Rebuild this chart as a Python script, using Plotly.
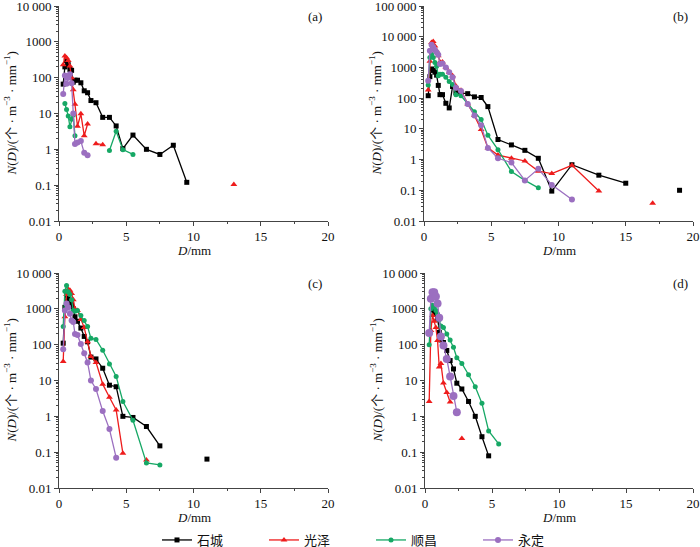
import plotly.graph_objects as go

W, H = 700, 547

# Parsivel bin centres (mm)
D_BINS = [0.312, 0.437, 0.562, 0.687, 0.812, 0.937, 1.062, 1.187, 1.375, 1.625,
          1.875, 2.125, 2.375, 2.75, 3.25, 3.75, 4.25, 4.75, 5.5, 6.5,
          7.5, 8.5, 9.5, 11, 13, 15, 17, 19]

SERIES_NAMES = ["石城", "光泽", "顺昌", "永定"]
N = None

# ---- panel (a)
a_shicheng = [66, 200, 300, 230, 170, 160, 75, 85, 85, 72, 43, 38, 23, 20, 7.8, 7.8, 4.5, 1.05, 2.5, 1.0, 0.72, 1.3, 0.12, N, N, N, N, N]
a_guangze = [230, 400, 360, 300, 210, 100, 46, 18, 4.4, 9.8, 2.4, 5.1, N, 1.44, 1.35, N, N, N, N, N, N, N, N, N, 0.105, N, N, N]
a_shunchang = [N, 19, 13, 8.5, 4.3, 6.9, 9.1, 2.4, N, N, N, N, N, N, N, 0.93, 3.2, 0.98, 0.72, N, N, N, N, N, N, N, N, N]
a_yongding = [35, 115, 68, 100, 125, 70, 10, 1.4, 1.55, 1.7, 0.8, 0.68, N, N, N, N, N, N, N, N, N, N, N, N, N, N, N, N]

# ---- panel (b)
b_shicheng = [120, 500, 890, 800, 700, 560, 260, 130, 130, 68, 48, 240, 150, 145, 140, 110, 105, 53, 4.5, 3.0, 2.0, 1.1, 0.094, 0.68, 0.31, 0.17, N, 0.1]
b_guangze = [185, 1600, 6500, 7000, 5000, 3500, 2400, 1500, 1500, 1000, 700, 540, 250, 180, 65, 27, 9.5, 2.4, 1.4, 1.1, 0.9, 0.42, 0.35, 0.65, 0.095, N, 0.038, N]
b_shunchang = [270, 2100, 2700, 2100, 1450, 1100, 540, 600, 600, 480, 350, 280, 130, 120, 65, 36, 20, 6.2, 2.1, 0.41, 0.21, 0.12, N, N, N, N, N, N]
b_yongding = [370, 3500, 5500, 4500, 3700, 3100, 2600, 1300, 1350, 1000, 700, 480, 220, 170, 65, 27, 13, 2.4, 1.1, 0.8, 0.21, 0.5, 0.15, 0.05, N, N, N, N]

# ---- panel (c)
c_shicheng = [110, 1100, 2400, 1900, 1700, 1300, 1000, 600, 450, 290, 170, 120, 45, 40, 22, 7.4, 6.7, 1.0, 0.93, 0.52, 0.15, N, N, 0.064, N, N, N, N]
c_guangze = [34, 600, 2500, 3500, 3300, 2700, 1800, 1000, 900, 500, 300, 120, 47, 32, 7.9, 3.4, 1.5, 0.093, N, 0.06, N, N, N, N, N, N, N, N]
c_shunchang = [320, 3100, 4500, 3000, 2500, 1800, 900, 850, 900, 650, 470, 320, 150, 140, 70, 29, 13, 2.6, 0.78, 0.05, 0.044, N, N, N, N, N, N, N]
c_yongding = [74, 900, 1400, 1100, 730, 470, 430, 200, 185, 105, 58, 32, 10, 5.8, 1.4, 0.44, 0.07, N, N, N, N, N, N, N, N, N, N, N]

# ---- panel (d)
d_shicheng = [N, N, 940, 800, 700, 520, 220, 135, 115, 69, 36, 21, 8.4, 5.8, 2.6, 1.0, 0.27, 0.079, N, N, N, N, N, N, N, N, N, N]
d_guangze = [2.6, 250, 650, 450, 300, 130, 24, 30, 8.5, 4.6, 2.5, N, N, 0.24, N, N, N, N, N, N, N, N, N, N, N, N, N, N]
d_shunchang = [100, 1000, 1250, 1100, 900, 720, 500, 330, 300, 200, 135, 85, 43, 30, 14.5, 6.7, 2.3, 0.39, 0.17, N, N, N, N, N, N, N, N, N]
d_yongding = [210, 1900, 2900, 2900, 2200, 1400, 560, 170, 95, 40, 13, 3.7, 1.3, N, N, N, N, N, N, N, N, N, N, N, N, N, N, N]

PANELS = [
    ("(a)", [a_shicheng, a_guangze, a_shunchang, a_yongding]),
    ("(b)", [b_shicheng, b_guangze, b_shunchang, b_yongding]),
    ("(c)", [c_shicheng, c_guangze, c_shunchang, c_yongding]),
    ("(d)", [d_shicheng, d_guangze, d_shunchang, d_yongding]),
]

COLORS = ["#000000", "#ee1c1c", "#16a865", "#9b6fc0"]
SYMBOLS = ["square", "triangle-up", "circle", "circle"]
MSIZES = [5, 6, 5, 6]

FONT = "Liberation Serif, Times New Roman, Noto Sans CJK SC, serif"

# panel geometry in pixels: (x0, x1, ytop, ybottom)
GEOM = [(59, 328, 6, 221), (424, 693, 6, 221), (59, 328, 273, 488), (425, 693, 273, 488)]
YRANGES = [[-2, 4], [-2, 5], [-2, 4], [-2, 4]]

fig = go.Figure()
layout = {}
annotations = []

for i, (label, series) in enumerate(PANELS):
    sfx = "" if i == 0 else str(i + 1)
    xa, ya = "x" + sfx, "y" + sfx
    for j, vals in enumerate(series):
        msize = MSIZES[j]
        if i == 3 and j == 3:
            msize = 8
        fig.add_trace(go.Scatter(
            x=D_BINS, y=vals, mode="lines+markers", name=SERIES_NAMES[j],
            xaxis=xa, yaxis=ya, showlegend=(i == 0),
            line=dict(color=COLORS[j], width=1.3),
            marker=dict(color=COLORS[j], symbol=SYMBOLS[j], size=msize),
            connectgaps=False,
        ))
    x0, x1, yt, yb = GEOM[i]
    yr = YRANGES[i]
    tickvals = [10 ** e for e in range(yr[0], yr[1] + 1)]
    ticktext = []
    for e in range(yr[0], yr[1] + 1):
        if e < 0:
            ticktext.append("0." + "0" * (-e - 1) + "1")
        elif e >= 4:
            s = str(10 ** e)
            ticktext.append(s[:-3] + "\u2009" + s[-3:])
        else:
            ticktext.append(str(10 ** e))
    minor_vals = [m * 10 ** e for e in range(yr[0], yr[1]) for m in range(2, 10)]
    layout["xaxis" + sfx] = dict(
        domain=[x0 / W, x1 / W], anchor=ya, range=[0, 20], dtick=5, tick0=0,
        automargin=False, ticklabeloverflow="allow", ticklabelstandoff=-1,
        showgrid=False, zeroline=False, showline=True, linecolor="#444", linewidth=1,
        ticks="outside", ticklen=4, tickcolor="#444",
        tickfont=dict(family=FONT, size=13, color="#111"),
        minor=dict(dtick=2.5, ticks="outside", ticklen=2, tickcolor="#444", showgrid=False),
    )
    layout["yaxis" + sfx] = dict(
        domain=[1 - yb / H, 1 - yt / H], anchor=xa, type="log", range=yr,
        automargin=False, ticklabeloverflow="allow",
        tickmode="array", tickvals=tickvals, ticktext=ticktext,
        showgrid=False, zeroline=False, showline=True, linecolor="#444", linewidth=1,
        ticks="outside", ticklen=4, tickcolor="#444",
        tickfont=dict(family=FONT, size=13, color="#111"),
        minor=dict(tickmode="array", tickvals=minor_vals, ticks="outside", ticklen=2,
                   tickcolor="#444", showgrid=False),
    )
    common = dict(xref="paper", yref="paper", showarrow=False,
                  xanchor="center", yanchor="middle")
    # panel label
    annotations.append(dict(text=label, x=(x1 - 13) / W, y=1 - (yt + 10) / H,
                            font=dict(family=FONT, size=13, color="#111"), **common))
    # x title
    annotations.append(dict(text="<i>D</i>/mm", x=(x0 + x1) / 2 / W, y=1 - (yb + 29) / H,
                            font=dict(family=FONT, size=13, color="#111"), **common))
    # y title
    annotations.append(dict(text="<i>N</i>(<i>D</i>)/(个 · m<sup>−3</sup> · mm<sup>−1</sup>)",
                            x=(x0 - 49) / W, y=1 - (yt + yb) / 2 / H, textangle=-90,
                            font=dict(family=FONT, size=13, color="#111"), **common))

fig.update_layout(
    template="none",
    width=W, height=H, margin=dict(l=0, r=0, t=0, b=0, autoexpand=False),
    plot_bgcolor="white", paper_bgcolor="white",
    font=dict(family=FONT, size=13, color="#111"),
    legend=dict(orientation="h", x=0.53, xanchor="center", y=1 - 540 / H, yanchor="middle",
                font=dict(family=FONT, size=13, color="#111"),
                entrywidth=62, entrywidthmode="pixels", bgcolor="rgba(0,0,0,0)"),
    annotations=annotations,
    **layout,
)

fig.write_html("out.html", config={"displayModeBar": False},
               post_script="document.body.style.margin='0';document.body.style.overflow='hidden';")
